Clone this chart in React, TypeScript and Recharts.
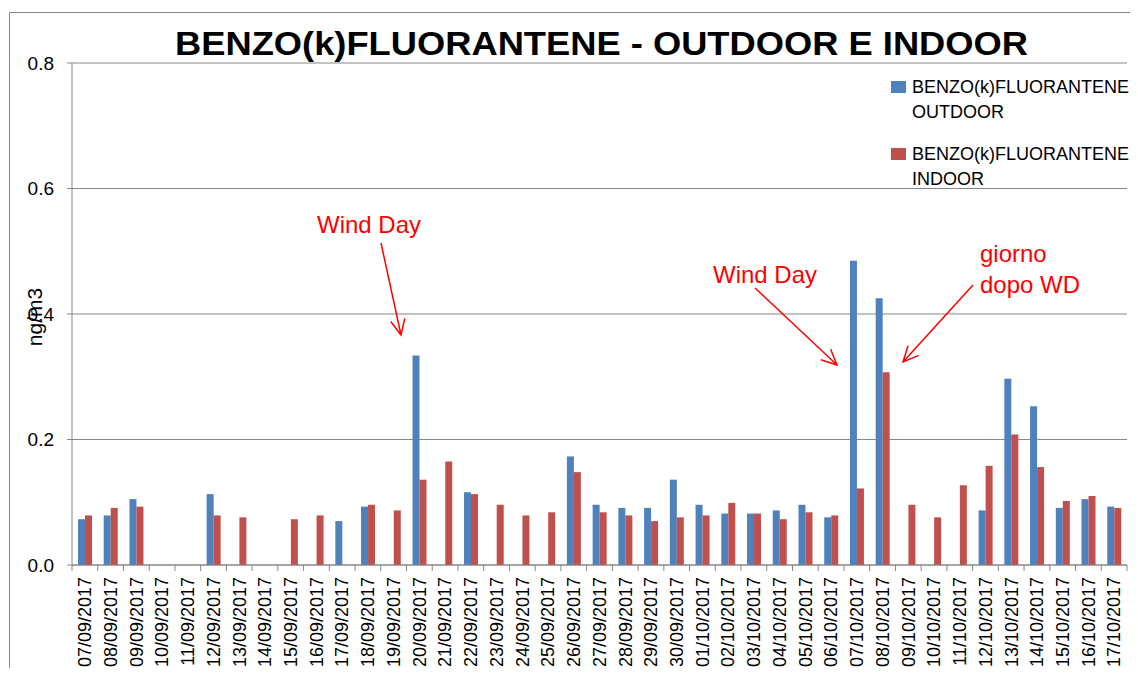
import { BarChart, Bar, XAxis, YAxis, CartesianGrid, Legend } from "recharts";

const DATES = [
  "07/09/2017", "08/09/2017", "09/09/2017", "10/09/2017", "11/09/2017", "12/09/2017",
  "13/09/2017", "14/09/2017", "15/09/2017", "16/09/2017", "17/09/2017", "18/09/2017",
  "19/09/2017", "20/09/2017", "21/09/2017", "22/09/2017", "23/09/2017", "24/09/2017",
  "25/09/2017", "26/09/2017", "27/09/2017", "28/09/2017", "29/09/2017", "30/09/2017",
  "01/10/2017", "02/10/2017", "03/10/2017", "04/10/2017", "05/10/2017", "06/10/2017",
  "07/10/2017", "08/10/2017", "09/10/2017", "10/10/2017", "11/10/2017", "12/10/2017",
  "13/10/2017", "14/10/2017", "15/10/2017", "16/10/2017", "17/10/2017",
];

const OUTDOOR = [
  0.073, 0.079, 0.105, null, null, 0.113,
  null, null, null, null, 0.07, 0.093,
  null, 0.334, null, 0.116, null, null,
  null, 0.173, 0.096, 0.091, 0.091, 0.136,
  0.096, 0.082, 0.082, 0.087, 0.096, 0.076,
  0.485, 0.425, null, null, null, 0.087,
  0.297, 0.253, 0.091, 0.105, 0.093,
];

const INDOOR = [
  0.079, 0.091, 0.093, null, null, 0.079,
  0.076, null, 0.073, 0.079, null, 0.096,
  0.087, 0.136, 0.165, 0.113, 0.096, 0.079,
  0.084, 0.148, 0.084, 0.079, 0.07, 0.076,
  0.079, 0.099, 0.082, 0.073, 0.084, 0.079,
  0.122, 0.307, 0.096, 0.076, 0.127, 0.158,
  0.208, 0.156, 0.102, 0.11, 0.091,
];

const Y_TICKS = [0, 0.2, 0.4, 0.6, 0.8];
const SERIES_NAMES = ["BENZO(k)FLUORANTENE OUTDOOR", "BENZO(k)FLUORANTENE INDOOR"];
const COLORS = ["#4F81BD", "#C0504D"];
const TITLE = "BENZO(k)FLUORANTENE - OUTDOOR E INDOOR";
const Y_LABEL = "ng/m3";

const data = DATES.map((date, i) => ({ date, outdoor: OUTDOOR[i], indoor: INDOOR[i] }));

// layout
const W = 1122;
const H = 668;
const MARGIN = { top: 55, right: 3, left: 0, bottom: 0 };
const Y_AXIS_W = 64;
const X_AXIS_H = H - 557;
const PLOT_W = W - MARGIN.right - Y_AXIS_W;
const STEP = PLOT_W / DATES.length;
const FONT = "'Liberation Sans', Arial, sans-serif";
const GRAY = "#868686";
const RED = "#FF0000";

function DateTick(props: any) {
  const { x, y, payload, index } = props;
  const half = STEP / 2;
  const axisY = y - 12;
  return (
    <g>
      <line x1={x - half} x2={x - half} y1={axisY} y2={axisY + 6} stroke={GRAY} />
      {index === DATES.length - 1 && (
        <line x1={x + half} x2={x + half} y1={axisY} y2={axisY + 6} stroke={GRAY} />
      )}
      <text
        x={x}
        y={y}
        dy="0.35em"
        transform={`rotate(-90, ${x}, ${y})`}
        textAnchor="end"
        fontSize={18}
        fontFamily={FONT}
        fill="#000"
      >
        {payload.value}
      </text>
    </g>
  );
}

function LegendBox({ payload }: any) {
  const items = (payload || [])
    .slice()
    .sort((a: any, b: any) => SERIES_NAMES.indexOf(a.value) - SERIES_NAMES.indexOf(b.value));
  return (
    <div style={{ position: "relative", fontFamily: FONT, fontSize: 18, lineHeight: "25px", color: "#000" }}>
      {items.map((entry: any, i: number) => {
        const words = String(entry.value).split(" ");
        return (
          <div key={i} style={{ position: "absolute", left: 0, top: i * 67, whiteSpace: "nowrap" }}>
            <div style={{ position: "absolute", left: 0, top: 6, width: 15, height: 12, background: entry.color }} />
            <div style={{ position: "absolute", left: 21, top: 0 }}>
              {words[0]}
              <br />
              {words.slice(1).join(" ")}
            </div>
          </div>
        );
      })}
    </div>
  );
}

function arrow(x1: number, y1: number, x2: number, y2: number) {
  const len = Math.hypot(x2 - x1, y2 - y1);
  const ux = (x1 - x2) / len;
  const uy = (y1 - y2) / len;
  const L = 17;
  const a = (25 * Math.PI) / 180;
  const w1x = x2 + L * (ux * Math.cos(a) - uy * Math.sin(a));
  const w1y = y2 + L * (ux * Math.sin(a) + uy * Math.cos(a));
  const w2x = x2 + L * (ux * Math.cos(-a) - uy * Math.sin(-a));
  const w2y = y2 + L * (ux * Math.sin(-a) + uy * Math.cos(-a));
  return `M${x1},${y1} L${x2},${y2} M${w1x},${w1y} L${x2},${y2} L${w2x},${w2y}`;
}

export default function App() {
  return (
    <div style={{ position: "relative", width: W, height: H - 8 }}>
      <BarChart width={W} height={H} data={data} margin={MARGIN} barGap={0} barSize={7}>
        <CartesianGrid vertical={false} stroke={GRAY} />
        <XAxis
          dataKey="date"
          interval={0}
          height={X_AXIS_H}
          tickLine={false}
          tickSize={6}
          tickMargin={6}
          tick={<DateTick />}
          axisLine={{ stroke: GRAY }}
        />
        <YAxis
          width={Y_AXIS_W}
          domain={[0, 0.8]}
          ticks={Y_TICKS}
          tickFormatter={(v: number) => v.toFixed(1)}
          tickSize={5}
          tickMargin={13}
          tickLine={{ stroke: GRAY }}
          axisLine={{ stroke: GRAY }}
          tick={{ fill: "#000", fontSize: 19, fontFamily: FONT }}
        />
        <Legend
          layout="horizontal"
          verticalAlign="middle"
          align="center"
          content={<LegendBox />}
          wrapperStyle={{ left: 883, top: 67, width: 240, height: 130 }}
        />
        <Bar dataKey="outdoor" name={SERIES_NAMES[0]} fill={COLORS[0]} isAnimationActive={false} />
        <Bar dataKey="indoor" name={SERIES_NAMES[1]} fill={COLORS[1]} isAnimationActive={false} />
      </BarChart>
      <svg
        width={1138}
        height={676}
        style={{ position: "absolute", left: -8, top: -8, pointerEvents: "none" }}
      >
        <path d="M9.5,676 V12.5 H1138" fill="none" stroke={GRAY} />
        <text
          x={601.5}
          y={55}
          textAnchor="middle"
          fontSize={33}
          fontWeight="bold"
          fontFamily={FONT}
          textLength={853}
          lengthAdjust="spacingAndGlyphs"
        >
          {TITLE}
        </text>
        <text
          x={35}
          y={317}
          dy="0.35em"
          transform="rotate(-90, 35, 317)"
          textAnchor="middle"
          fontSize={21}
          fontFamily={FONT}
        >
          {Y_LABEL}
        </text>
        <g fill={RED} fontSize={24} fontFamily={FONT}>
          <text x={317} y={233}>Wind Day</text>
          <text x={713} y={283}>Wind Day</text>
          <text x={980} y={262}>giorno</text>
          <text x={980} y={293}>dopo WD</text>
        </g>
        <g stroke={RED} strokeWidth={1.5} fill="none">
          <path d={arrow(381, 243, 401, 335)} />
          <path d={arrow(755, 288, 837, 365)} />
          <path d={arrow(973, 285, 903, 362)} />
        </g>
      </svg>
    </div>
  );
}
